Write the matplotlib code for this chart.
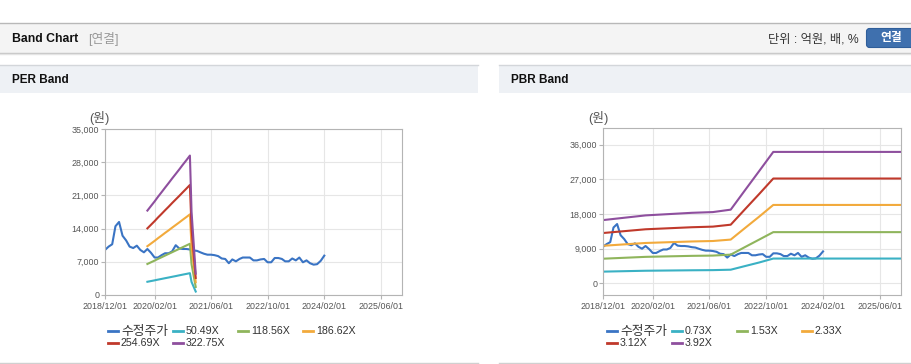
import pandas as pd
import matplotlib
matplotlib.use('Agg')
import matplotlib.pyplot as plt
from matplotlib.patches import Rectangle, FancyBboxPatch
from matplotlib.ticker import FuncFormatter
import matplotlib.dates as mdates

plt.rcParams['font.family'] = ['Liberation Sans', 'Noto Sans CJK KR']

# 수정주가, monthly from 2018/12
price = [9500, 10200, 10700, 14500, 15400, 12500, 11500, 10200, 9900, 10400,
         9500, 9000, 9700, 8900, 7900, 7900, 8400, 8800, 8800, 9200,
         10500, 9800, 9700, 9700, 9600, 9400, 9300, 9000, 8700, 8500,
         8500, 8400, 8200, 7700, 7600, 6700, 7500, 7100, 7600, 7900,
         7900, 7900, 7300, 7300, 7500, 7600, 6900, 6900, 7800, 7800,
         7600, 7100, 7100, 7700, 7300, 7900, 6900, 7300, 6700, 6400,
         6500, 7200, 8300]
price_dates = pd.date_range('2018-12-01', periods=len(price), freq='MS')

# PER band
per_dates = pd.to_datetime(['2019-12-01', '2020-01-01', '2020-02-01', '2020-03-01', '2020-04-01',
                            '2020-05-01', '2020-06-01', '2020-07-01', '2020-08-01', '2020-09-01',
                            '2020-10-01', '2020-11-01', '2020-12-01', '2020-12-15', '2021-01-20'])
per_labels = ['50.49X', '118.56X', '186.62X', '254.69X', '322.75X']
per_50 = [2790, 2940, 3090, 3240, 3390, 3540, 3690, 3840, 3990, 4150, 4300, 4450, 4600, 2760, 730]
per_118 = [6540, 6900, 7250, 7610, 7960, 8310, 8670, 9020, 9380, 9740, 10090, 10450, 10800, 6500, 1700]
per_186 = [10290, 10850, 11410, 11970, 12530, 13090, 13640, 14200, 14760, 15320, 15880, 16440, 17000, 10200, 2700]
per_254 = [14050, 14810, 15570, 16340, 17100, 17860, 18620, 19390, 20150, 20910, 21670, 22440, 23200, 13900, 3600]
per_322 = [17800, 18770, 19730, 20700, 21670, 22630, 23600, 24570, 25530, 26500, 27470, 28430, 29400, 17600, 4500]

# PBR band
pbr_dates = pd.to_datetime(['2018-12-01', '2019-12-01', '2021-01-01', '2021-07-01', '2021-12-01',
                            '2022-04-01', '2022-08-01', '2022-12-01', '2025-12-01'])
pbr_labels = ['0.73X', '1.53X', '2.33X', '3.12X', '3.92X']
pbr_073 = [3060, 3290, 3410, 3450, 3560, 4490, 5420, 6450, 6450]
pbr_153 = [6410, 6890, 7150, 7220, 7470, 9410, 11350, 13300, 13300]
pbr_233 = [9760, 10490, 10880, 11000, 11370, 14330, 17290, 20350, 20350]
pbr_312 = [13070, 14040, 14570, 14730, 15230, 19190, 23150, 27200, 27200]
pbr_392 = [16420, 17640, 18310, 18500, 19130, 24110, 29090, 34100, 34100]

colors = ['#3a74c4', '#3ab1c4', '#8fb55c', '#f2aa3c', '#c0392b', '#8e4f9e']
xticks = pd.to_datetime(['2018-12-01', '2020-02-01', '2021-06-01', '2022-10-01', '2024-02-01', '2025-06-01'])

W, H = 912, 364
fig = plt.figure(figsize=(W / 100, H / 100), dpi=100)
bg = fig.add_axes([0, 0, 1, 1])
bg.set_xlim(0, W)
bg.set_ylim(H, 0)
bg.axis('off')


def box(x0, y0, x1, y1):
    return [x0 / W, 1 - y1 / H, (x1 - x0) / W, (y1 - y0) / H]


# page header
bg.add_patch(Rectangle((0, 22.5), W, 30.5, fc='#f4f4f4', ec='none'))
bg.plot([0, W], [22.5, 22.5], color='#b8b8b8', lw=1)
bg.plot([0, W], [53.2, 53.2], color='#c4c4c4', lw=1)
bg.plot([0, W], [54.2, 54.2], color='#e4e4e4', lw=1)
bg.text(12, 38.5, 'Band Chart', fontsize=8.8, fontweight='bold', va='center', color='#111')
bg.text(88, 38.5, '[연결]', fontsize=9.2, va='center', color='#9a9a9a')
bg.text(859, 39, '단위 : 억원, 배, %', fontsize=8.8, ha='right', va='center', color='#333')
bg.add_patch(FancyBboxPatch((866.5, 28.5), 52, 19, boxstyle='round,pad=0,rounding_size=3',
                            fc='#3f70ae', ec='#2f5e9a', lw=0.8))
bg.text(891.5, 38.5, '연결', fontsize=8.5, fontweight='bold', color='white', ha='center', va='center')

# panel headers
for x0, x1, title in [(0, 478, 'PER Band'), (499, W, 'PBR Band')]:
    bg.add_patch(Rectangle((x0, 64.5), x1 - x0, 28, fc='#eef1f5', ec='none'))
    bg.plot([x0, x1], [64.5, 64.5], color='#d3d6da', lw=1)
    bg.plot([x0, x1], [363, 363], color='#d0d0d0', lw=1)
    bg.text(x0 + 12, 80, title, fontsize=8.5, fontweight='bold', va='center', color='#111')


def band_chart(rect, bdates, bands, labels, ylim, yticks, unit_x, leg_x):
    ax = fig.add_axes(box(*rect))
    ax.plot(price_dates, price, color=colors[0], lw=1.5)
    for vals, c in zip(bands, colors[1:]):
        ax.plot(bdates, vals, color=c, lw=1.5)
    ax.set_xlim(pd.Timestamp('2018-12-01'), pd.Timestamp('2025-12-01'))
    ax.set_ylim(*ylim)
    ax.set_yticks(yticks)
    ax.yaxis.set_major_formatter(FuncFormatter(lambda v, p: f'{v:,.0f}'))
    ax.set_xticks(xticks)
    ax.xaxis.set_major_formatter(mdates.DateFormatter('%Y/%m/%d'))
    ax.grid(True, color='#e6e6e6', lw=0.8)
    ax.set_axisbelow(True)
    for s in ax.spines.values():
        s.set_color('#b4b4b4')
        s.set_linewidth(0.8)
    ax.tick_params(length=3, color='#b4b4b4', labelcolor='#555', labelsize=6.4)
    ax.tick_params(axis='x', pad=2)
    ax.tick_params(axis='y', pad=1.2)
    bg.text(unit_x, 118, '(원)', fontsize=9.2, color='#555', ha='center', va='center')
    names = ['수정주가'] + labels
    for i, (lab, c) in enumerate(zip(names, colors)):
        x = leg_x + 65 * (i % 4)
        y = 330.7 + 12.6 * (i // 4)
        bg.plot([x, x + 10], [y, y], color=c, lw=2)
        if i == 0:
            bg.text(x + 13, y + 0.8, lab, fontsize=9.2, color='#333', va='center')
        else:
            bg.text(x + 13, y, lab, fontsize=7.7, color='#333', va='center')
    return ax


band_chart((105, 129, 402, 295), per_dates, [per_50, per_118, per_186, per_254, per_322],
           per_labels, (0, 35000), range(0, 35001, 7000), 99, 108)
band_chart((603, 128, 901, 295), pbr_dates, [pbr_073, pbr_153, pbr_233, pbr_312, pbr_392],
           pbr_labels, (-3000, 40300), range(0, 36001, 9000), 598, 607)

fig.savefig('out.png', dpi=100)
